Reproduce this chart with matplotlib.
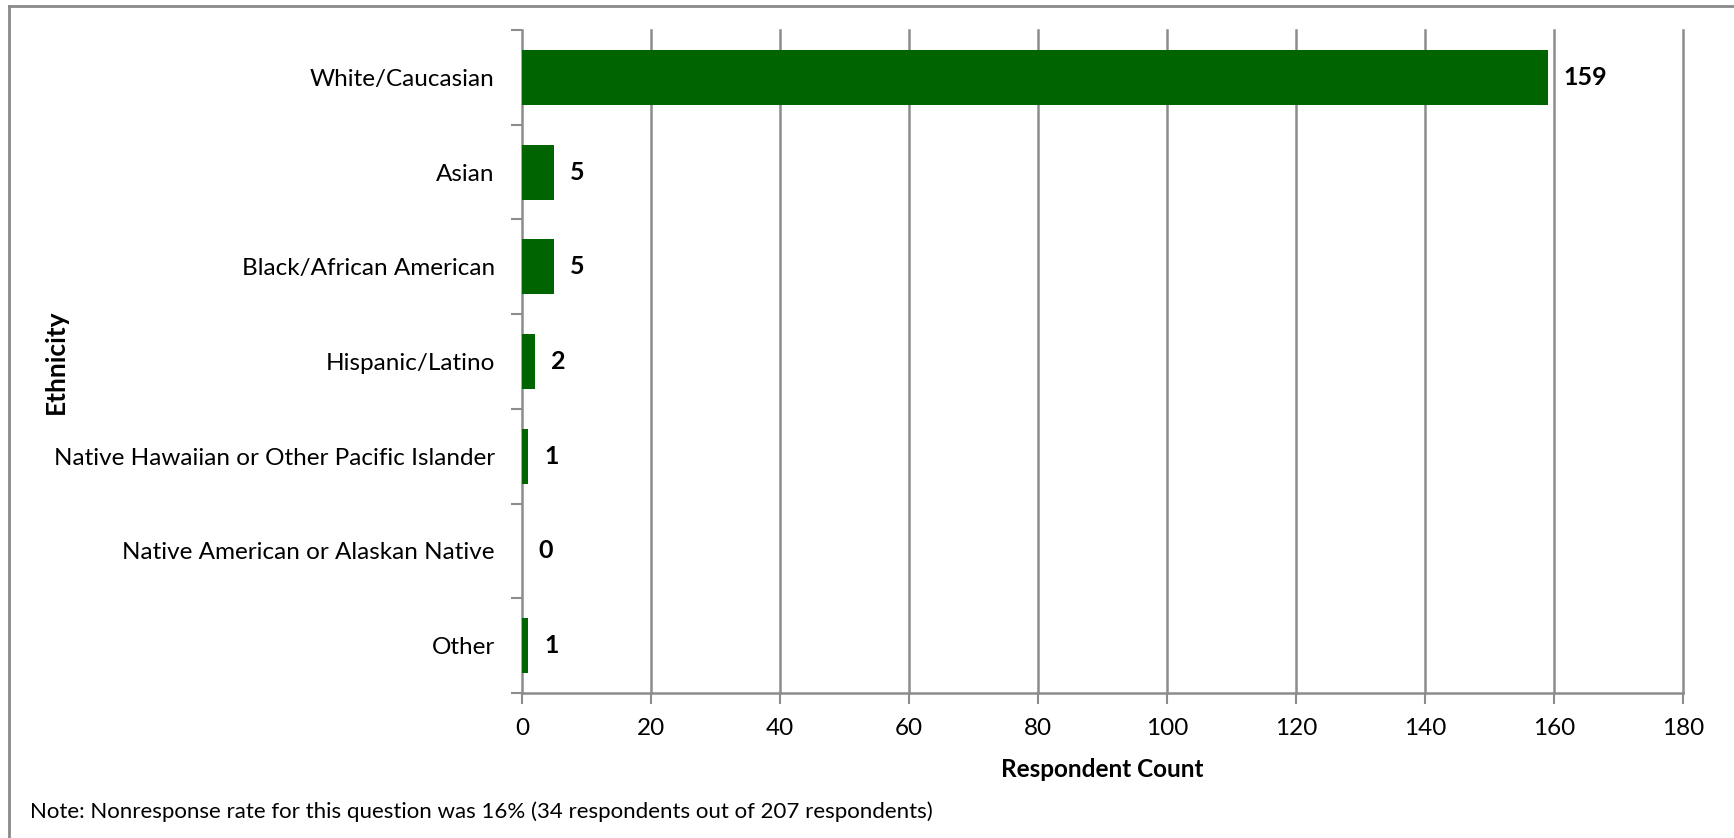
import matplotlib.pyplot as plt
import numpy as np
from matplotlib.lines import Line2D

plt.rcParams['font.family'] = ['Lato', 'DejaVu Sans']

categories = ['White/Caucasian', 'Asian', 'Black/African American',
              'Hispanic/Latino', 'Native Hawaiian or Other Pacific Islander',
              'Native American or Alaskan Native', 'Other']
counts = [159, 5, 5, 2, 1, 0, 1]
x_ticks = [0, 20, 40, 60, 80, 100, 120, 140, 160, 180]
note = ('Note: Nonresponse rate for this question was 16% '
        '(34 respondents out of 207 respondents)')

grid_color = '#8c8c8c'
bar_color = '#006400'

fig = plt.figure(figsize=(17.34, 8.38), dpi=100)
ax = fig.add_axes([0.301, 0.173, 0.6696, 0.7912])

ypos = np.arange(len(categories))
ax.barh(ypos, counts, height=0.58, color=bar_color, zorder=3)
for y, v in zip(ypos, counts):
    ax.text(v + 2.5, y, str(v), va='center', ha='left', fontsize=18,
            fontweight='bold', color='black')

ax.set_xlim(0, 180)
ax.set_ylim(len(categories) - 0.5, -0.5)
ax.set_xticks(x_ticks)
ax.set_xticklabels([str(t) for t in x_ticks], fontsize=17.5)
ax.set_yticks(ypos)
ax.set_yticklabels(categories, fontsize=17.5)
ax.set_yticks(np.arange(len(categories) + 1) - 0.5, minor=True)

ax.tick_params(axis='y', which='major', length=0, pad=19.5)
ax.tick_params(axis='y', which='minor', length=8, width=1.5, color=grid_color)
ax.tick_params(axis='x', which='major', length=8, width=1.5, color=grid_color,
               pad=10)

# vertical gridlines, unclipped so the 180 line keeps its full width
for t in x_ticks[1:]:
    ax.axvline(t, color=grid_color, linewidth=1.8, zorder=0, clip_on=False)
for side in ['top', 'right']:
    ax.spines[side].set_visible(False)
for side in ['left', 'bottom']:
    ax.spines[side].set_color(grid_color)
    ax.spines[side].set_linewidth(1.8)

ax.set_xlabel('Respondent Count', fontsize=17.5, fontweight='bold', labelpad=14)
ax.set_ylabel('Ethnicity', fontsize=19, fontweight='bold')
ax.yaxis.set_label_coords((68 - 522) / 1161, 0.5)

fig.text(30 / 1734, 1 - 812 / 838, note, fontsize=16, va='center', ha='left')

# partial frame around the chart (left and top edges)
fig.add_artist(Line2D([9 / 1734, 9 / 1734], [0, 1 - 6 / 838],
                      transform=fig.transFigure, color='#8a8a8a', linewidth=2))
fig.add_artist(Line2D([9 / 1734, 1], [1 - 6 / 838, 1 - 6 / 838],
                      transform=fig.transFigure, color='#8a8a8a', linewidth=2))

fig.savefig('out.png', dpi=100)
